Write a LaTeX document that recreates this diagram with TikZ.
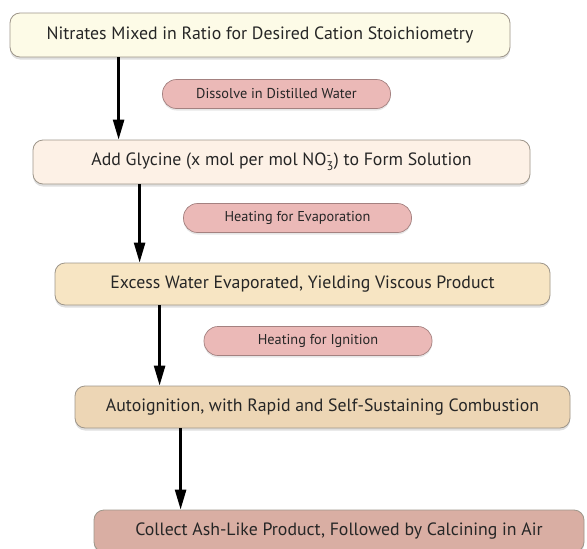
\documentclass[tikz,border=0pt]{standalone}
\usepackage{amsmath}
\usepackage{fontspec}
\setmainfont{PT Sans}
\usetikzlibrary{arrows.meta,shadows}

\definecolor{stepA}{HTML}{FDFBE7}
\definecolor{stepB}{HTML}{FDF1E6}
\definecolor{stepC}{HTML}{F7E5C3}
\definecolor{stepD}{HTML}{EDD6B5}
\definecolor{stepE}{HTML}{D9AEA3}
\definecolor{pillfill}{HTML}{EBB9B7}
\definecolor{edgegrey}{HTML}{9E968A}
\definecolor{inkgrey}{HTML}{262626}

\begin{document}
\begin{tikzpicture}[x=1pt,y=-1pt,
  stepbox/.style={draw=edgegrey,line width=0.8pt,rounded corners=10pt,
    minimum height=44pt,text=inkgrey,font=\fontsize{17.8}{20}\selectfont,
    drop shadow={shadow xshift=0pt,shadow yshift=-2.5pt,opacity=0.25}},
  pill/.style={draw=pillfill!70!black,line width=0.7pt,fill=pillfill,
    rounded corners=14pt,minimum width=228pt,minimum height=29pt,text=inkgrey,
    font=\fontsize{14.3}{16}\selectfont,
    drop shadow={shadow xshift=0pt,shadow yshift=-2pt,opacity=0.2}},
  flowarrow/.style={line width=2.6pt,-{Triangle[width=11pt,length=20pt]}}]

\useasboundingbox (0,0) rectangle (587,549);

% Steps
\node[stepbox,fill=stepA,minimum width=500pt] (nitrates) at (260,35)
  {Nitrates Mixed in Ratio for Desired Cation Stoichiometry};
\node[stepbox,fill=stepB,minimum width=497pt] (glycine) at (281.5,162)
  {Add Glycine (x mol per mol NO$_{\text{3}}^{\text{-}}$) to Form Solution};
\node[stepbox,fill=stepC,minimum width=495pt,minimum height=42pt] (viscous) at (302.5,284)
  {Excess Water Evaporated, Yielding Viscous Product};
\node[stepbox,fill=stepD,minimum width=495pt,minimum height=42pt] (autoign) at (322.5,407)
  {Autoignition, with Rapid and Self-Sustaining Combustion};
\node[stepbox,fill=stepE,minimum width=490pt,minimum height=42pt] (ash) at (339,531)
  {Collect Ash-Like Product, Followed by Calcining in Air};

% Treatments
\node[pill] (dissolve) at (276.5,94) {Dissolve in Distilled Water};
\node[pill] (evap) at (297.5,218) {Heating for Evaporation};
\node[pill] (ignite) at (318,341) {Heating for Ignition};

% Arrows
\draw[flowarrow] ([xshift=109pt]nitrates.south west) -- ([xshift=109pt]nitrates.south west |- glycine.north);
\draw[flowarrow] ([xshift=107pt]glycine.south west) -- ([xshift=107pt]glycine.south west |- viscous.north);
\draw[flowarrow] ([xshift=105pt]viscous.south west) -- ([xshift=105pt]viscous.south west |- autoign.north);
\draw[flowarrow] ([xshift=106pt]autoign.south west) -- ([xshift=106pt]autoign.south west |- ash.north);

\end{tikzpicture}
\end{document}
